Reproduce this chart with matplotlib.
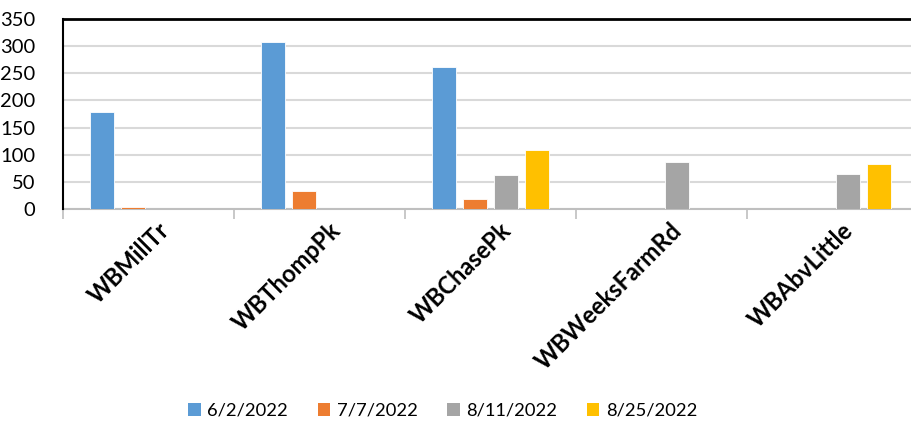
import matplotlib
matplotlib.use("Agg")
import matplotlib.pyplot as plt
from matplotlib.patches import Patch
from matplotlib.ticker import FixedLocator
import matplotlib.transforms as mtransforms
import numpy as np

sites = ["WBMillTr", "WBThompPk", "WBChasePk", "WBWeeksFarmRd", "WBAbvLittle"]
dates = ["6/2/2022", "7/7/2022", "8/11/2022", "8/25/2022"]
v_0602 = [178, 307, 261, 0, 0]
v_0707 = [4, 33, 18, 0, 0]
v_0811 = [0, 0, 62, 87, 65]
v_0825 = [0, 0, 108, 0, 82]
series = [v_0602, v_0707, v_0811, v_0825]
colors = ["#5B9BD5", "#ED7D31", "#A5A5A5", "#FFC000"]
yticks = [0, 50, 100, 150, 200, 250, 300, 350]

plt.rcParams['font.family'] = ['Lato', 'DejaVu Sans']

fig = plt.figure(figsize=(9.11, 4.24), dpi=100)
ax = fig.add_axes([63/911, 1-209/424, 855/911, 190/424])

x = np.arange(len(sites))
spacing = 0.181
width = 0.142
for i, (vals, c) in enumerate(zip(series, colors)):
    ax.bar(x + (i - 1.5) * spacing, vals, width=width, color=c,
           edgecolor='white', linewidth=0.6, zorder=3, label=dates[i])

ax.set_xlim(-0.5, len(sites) - 0.5)
ax.set_ylim(0, 350)
ax.set_yticks(yticks)
ax.set_yticklabels([str(t) for t in yticks], fontsize=14.5)
ax.yaxis.grid(True, color='#D9D9D9', linewidth=1.5, zorder=0)
ax.tick_params(axis='y', length=0, pad=20)

ax.set_xticks(x)
ax.set_xticklabels(sites, rotation=45, ha='right', va='top',
                   rotation_mode='anchor', fontsize=17, fontweight='bold')
ax.tick_params(axis='x', which='major', length=0, pad=7)
ax.xaxis.set_minor_locator(FixedLocator(np.arange(-0.5, len(sites), 1.0)))
ax.tick_params(axis='x', which='minor', length=7, width=1.2, color='#BFBFBF')
offset = mtransforms.ScaledTranslation(9/100, 0, fig.dpi_scale_trans)
for lbl in ax.get_xticklabels():
    lbl.set_transform(lbl.get_transform() + offset)

ax.spines['top'].set_color('black')
ax.spines['top'].set_linewidth(2)
ax.spines['left'].set_color('black')
ax.spines['left'].set_linewidth(1.5)
ax.spines['right'].set_visible(False)
ax.spines['bottom'].set_color('#BFBFBF')
ax.spines['bottom'].set_linewidth(1.5)
ax.spines['bottom'].set_zorder(2)

handles = [Patch(facecolor=c, edgecolor='none') for c in colors]
fig.legend(handles, dates, loc='center', bbox_to_anchor=(0.486, 0.031),
           ncol=4, frameon=False, fontsize=13.2, handlelength=0.7,
           handleheight=0.7, handletextpad=0.35, columnspacing=1.6)

fig.savefig("out.png", dpi=100)
